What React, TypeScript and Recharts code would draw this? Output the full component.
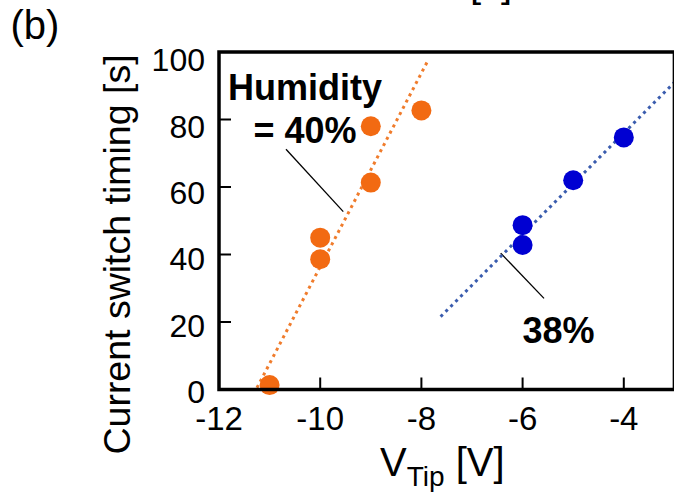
import React from 'react';
import { ComposedChart, XAxis, YAxis, Scatter, Line, ReferenceLine } from 'recharts';

const xTicks = [-12, -10, -8, -6, -4];
const yTicks = [0, 20, 40, 60, 80, 100];
const xDomain = [-12, -3];
const yDomain = [0, 100];

// Humidity = 40 %
const h40V = [-11, -10, -10, -9, -9, -8];
const h40T = [1.3, 45, 38.6, 61.3, 78, 82.7];
// Humidity = 38 %
const h38V = [-6, -6, -5, -4];
const h38T = [48.7, 42.8, 62, 74.7];
// fitted lines (end points)
const fit40V = [-11.25, -7.87];
const fit40T = [0.5, 97.5];
const fit38V = [-7.62, -3];
const fit38T = [21.6, 91];
// leader lines for the annotations
const lead40V = [-10.676, -9.544];
const lead40T = [71.2, 52.7];
const lead38V = [-6.433, -5.577];
const lead38T = [40.4, 27.0];

const FONT = '"Liberation Sans", Arial, Helvetica, sans-serif';
const ORANGE = '#f26a12';
const ORANGE_LINE = '#f07c2c';
const BLUE = '#0000d2';
const BLUE_LINE = '#3a5cae';
const TICK_LEN = 12;

// layout
const W = 674;
const H = 492;
const CHART_W = 690;
const PLOT_LEFT = 219;
const PLOT_TOP = 52;
const PLOT_RIGHT = 674.4;
const PLOT_BOTTOM = 389.5;
const SIDE_AXIS = 10;

const zip = (xs: number[], ys: number[]) => xs.map((x, i) => ({ x, y: ys[i] }));

const h40 = zip(h40V, h40T);
const h38 = zip(h38V, h38T);
const fit40 = zip(fit40V, fit40T);
const fit38 = zip(fit38V, fit38T);
const lead40 = zip(lead40V, lead40T);
const lead38 = zip(lead38V, lead38T);

const makeDot = (color: string) => (p: any) => (
  <circle cx={p.cx} cy={p.cy} r={10} fill={color} />
);

const BottomTick = (p: any) => (
  <g>
    <path d={`M${p.x},${p.y}v${-TICK_LEN}`} stroke="#000" strokeWidth={2} fill="none" />
    <text x={p.x} y={p.y + 40} textAnchor="middle" fontFamily={FONT} fontSize={33} fill="#000">
      {p.payload.value}
    </text>
  </g>
);

const TopTick = (p: any) => (
  <path d={`M${p.x},${p.y}v${TICK_LEN}`} stroke="#000" strokeWidth={2} fill="none" />
);

const LeftTick = (p: any) => (
  <g>
    <path d={`M${p.x},${p.y}h${TICK_LEN}`} stroke="#000" strokeWidth={2} fill="none" />
    <text
      x={p.x - 14}
      y={p.y + 13.5 + 0.058 * p.payload.value}
      textAnchor="end"
      fontFamily={FONT}
      fontSize={32}
      fill="#000"
    >
      {p.payload.value}
    </text>
  </g>
);

const RightTick = (p: any) => (
  <path d={`M${p.x},${p.y}h${-TICK_LEN}`} stroke="#000" strokeWidth={2} fill="none" />
);

export default function App() {
  return (
    <div
      style={{
        position: 'absolute',
        left: 0,
        top: 0,
        width: W,
        height: H,
        overflow: 'hidden',
        background: '#fff',
      }}
    >
      <ComposedChart
        width={CHART_W}
        height={H}
        margin={{
          top: PLOT_TOP - SIDE_AXIS,
          right: CHART_W - PLOT_RIGHT - SIDE_AXIS,
          left: 0,
          bottom: 0,
        }}
      >
        <XAxis
          dataKey="x"
          type="number"
          domain={xDomain}
          ticks={xTicks}
          height={H - PLOT_BOTTOM}
          tickSize={0}
          tickMargin={0}
          axisLine={false}
          tickLine={false}
          tick={BottomTick}
        />
        <XAxis
          xAxisId="top"
          orientation="top"
          type="number"
          domain={xDomain}
          ticks={xTicks}
          height={SIDE_AXIS}
          tickSize={0}
          tickMargin={0}
          axisLine={false}
          tickLine={false}
          tick={TopTick}
        />
        <YAxis
          dataKey="y"
          type="number"
          domain={yDomain}
          ticks={yTicks}
          width={PLOT_LEFT}
          tickSize={0}
          tickMargin={0}
          axisLine={false}
          tickLine={false}
          tick={LeftTick}
        />
        <YAxis
          yAxisId="right"
          orientation="right"
          type="number"
          domain={yDomain}
          ticks={yTicks}
          width={SIDE_AXIS}
          tickSize={0}
          tickMargin={0}
          axisLine={false}
          tickLine={false}
          tick={RightTick}
        />
        <ReferenceLine
          segment={lead40}
          stroke="#000"
          strokeWidth={1.3}
          ifOverflow="visible"
        />
        <ReferenceLine
          segment={lead38}
          stroke="#000"
          strokeWidth={1.3}
          ifOverflow="visible"
        />
        <Line
          data={fit40}
          dataKey="y"
          type="linear"
          stroke={ORANGE_LINE}
          strokeWidth={3}
          strokeDasharray="3 4"
          dot={false}
          activeDot={false}
          isAnimationActive={false}
        />
        <Line
          data={fit38}
          dataKey="y"
          type="linear"
          stroke={BLUE_LINE}
          strokeWidth={3}
          strokeDasharray="3 4"
          dot={false}
          activeDot={false}
          isAnimationActive={false}
        />
        <Scatter data={h40} dataKey="y" shape={makeDot(ORANGE)} isAnimationActive={false} />
        <Scatter data={h38} dataKey="y" shape={makeDot(BLUE)} isAnimationActive={false} />
      </ComposedChart>
      <svg
        width={W}
        height={H}
        style={{ position: 'absolute', left: 0, top: 0, pointerEvents: 'none' }}
        fontFamily={FONT}
      >
        <rect
          x={PLOT_LEFT}
          y={PLOT_TOP}
          width={PLOT_RIGHT - PLOT_LEFT}
          height={PLOT_BOTTOM - PLOT_TOP}
          fill="none"
          stroke="#000"
          strokeWidth={3.5}
        />
        <text x={470} y={-3.4} fontSize={40} fill="#000">[s]</text>
        <text x={10.5} y={39} fontSize={40} fill="#000">(b)</text>
        <text
          x={130}
          y={254.5}
          fontSize={37.5}
          fill="#000"
          textAnchor="middle"
          transform="rotate(-90, 130, 254.5)"
        >
          Current switch timing [s]
        </text>
        <text x={380} y={475.5} fontSize={40} fill="#000">
          V
          <tspan fontSize={28} dy={10}>Tip</tspan>
          <tspan dy={-10}> [V]</tspan>
        </text>
        <text x={305} y={99.5} fontSize={36} fontWeight="bold" fill="#000" textAnchor="middle">
          Humidity
        </text>
        <text x={305} y={143} fontSize={36} fontWeight="bold" fill="#000" textAnchor="middle">
          = 40%
        </text>
        <text x={558.5} y={342.7} fontSize={36} fontWeight="bold" fill="#000" textAnchor="middle">
          38%
        </text>
      </svg>
    </div>
  );
}
